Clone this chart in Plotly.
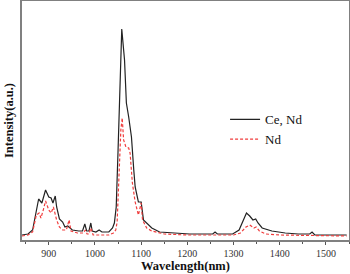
import plotly.graph_objects as go

# Ce, Nd co-doped sample
wl_ce = [842, 855, 865, 872, 878, 885, 893, 900, 905, 909,
         914, 917, 923, 930, 935, 941, 945, 951, 965, 973,
         978, 982, 987, 991, 994, 1002, 1009, 1015, 1030, 1038,
         1042, 1046, 1050, 1054, 1058, 1064, 1068, 1073, 1079, 1084,
         1087, 1094, 1100, 1105, 1112, 1123, 1140, 1170, 1205, 1255,
         1260, 1265, 1298, 1312, 1320, 1328, 1335, 1342, 1348, 1353,
         1362, 1383, 1412, 1440, 1465, 1470, 1476, 1545]
int_ce = [5, 6, 10, 25, 41, 37, 50, 43, 42, 37,
          44, 33, 21, 18, 13, 14, 12, 10, 9, 9,
          16, 9, 9, 17, 9, 8, 10, 8, 8, 12,
          17, 33, 90, 157, 211, 180, 137, 123, 103, 70,
          53, 38, 38, 20, 17, 12, 8, 7, 6, 6,
          8, 6, 6, 10, 18, 27, 24, 20, 21, 17,
          12, 9, 7, 6, 6, 8, 5, 5]

# Nd-only sample
wl_nd = [842, 855, 865, 873, 879, 883, 888, 893, 900, 905,
         910, 917, 923, 930, 938, 944, 948, 962, 975, 979,
         983, 987, 991, 996, 1010, 1030, 1040, 1045, 1048, 1053,
         1056, 1059, 1062, 1067, 1073, 1076, 1079, 1081, 1087, 1094,
         1100, 1103, 1112, 1123, 1150, 1200, 1262, 1300, 1315, 1327,
         1335, 1344, 1349, 1356, 1370, 1400, 1545]
int_nd = [4, 5, 8, 25, 27, 22, 30, 39, 30, 27,
          33, 20, 13, 10, 10, 20, 9, 7, 7, 10,
          6, 6, 12, 5, 5, 5, 7, 10, 18, 70,
          110, 122, 100, 93, 92, 87, 73, 57, 38, 25,
          37, 20, 12, 9, 6, 5, 5, 5, 7, 13,
          15, 12, 13, 9, 6, 5, 4]

series_names = ["Ce, Nd", "Nd"]
x_ticks = [900, 1000, 1100, 1200, 1300, 1400, 1500]

FONT = "Liberation Serif"

fig = go.Figure()
fig.add_trace(go.Scatter(x=wl_ce, y=int_ce, mode="lines", name=series_names[0],
                         line=dict(color="#222222", width=1.2)))
fig.add_trace(go.Scatter(x=wl_nd, y=int_nd, mode="lines", name=series_names[1],
                         line=dict(color="#f03c3c", width=1.2, dash="3px,2px")))

fig.update_layout(
    width=350, height=274,
    margin=dict(l=22, r=1, t=1, b=34, autoexpand=False),
    plot_bgcolor="white", paper_bgcolor="white",
    font=dict(family=FONT, color="#222222"),
    showlegend=True,
    legend=dict(x=0.621, y=0.463, xanchor="left", yanchor="middle",
                bgcolor="rgba(0,0,0,0)", font=dict(family=FONT, size=13, color="#111111"),
                tracegroupgap=0, itemwidth=30),
    xaxis=dict(range=[842, 1550], tickvals=x_ticks, ticktext=[str(v) for v in x_ticks],
               automargin=False,
               showgrid=False, zeroline=False, showline=True, mirror=True,
               linecolor="#808080", linewidth=1.5, ticks="outside", ticklen=3,
               tickcolor="#555555", tickfont=dict(family=FONT, size=10, color="#333333"),
               minor=dict(dtick=50, tick0=850, ticks="outside", ticklen=2, tickcolor="#555555"),
               title=dict(text="<b>Wavelength(nm)</b>", font=dict(family=FONT, size=12.5, color="#111111"),
                          standoff=0)),
    yaxis=dict(range=[0, 239], showticklabels=False, ticks="", showgrid=False, zeroline=False,
               automargin=False,
               showline=True, mirror=True, linecolor="#808080", linewidth=1.5,
               title=dict(text="<b>Intensity(a.u.)</b>", font=dict(family=FONT, size=12.5, color="#111111"),
                          standoff=4)),
)

fig.write_html("out.html", config={"displayModeBar": False},
               post_script="document.body.style.margin='0';")
